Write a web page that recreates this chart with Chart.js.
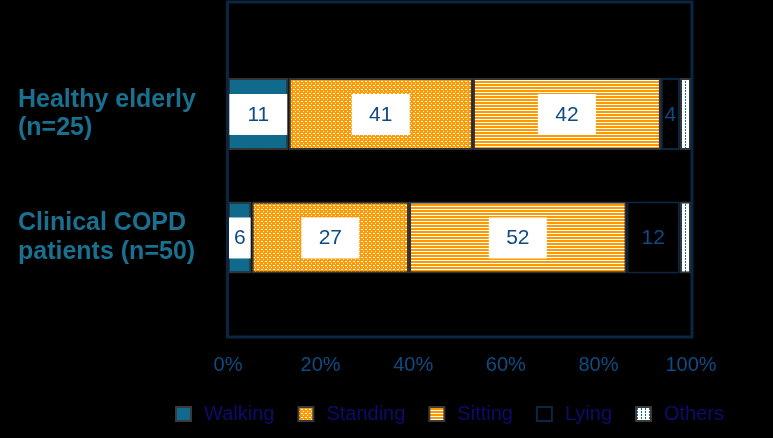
<!DOCTYPE html>
<html>
<head>
<meta charset="utf-8">
<script src="https://cdn.jsdelivr.net/npm/chart.js@4.4.1/dist/chart.umd.min.js"></script>
<style>
  html, body { margin: 0; padding: 0; background: #000; }
  #wrap { width: 773px; height: 438px; }
</style>
</head>
<body>
<div id="wrap"><canvas id="activityChart" width="773" height="438"></canvas></div>
<script>
// groups on the y axis (two lines each)
const groups = [["Healthy elderly", "(n=25)"], ["Clinical COPD", "patients (n=50)"]];
const activities = ["Walking", "Standing", "Sitting", "Lying", "Others"];

// share of the day per activity (%)
const walking  = [13.1, 5.1];
const standing = [39.8, 34.0];
const sitting  = [40.6, 47.0];
const lying    = [4.1, 11.5];
const others   = [2.4, 2.4];

// numbers printed on the bars
const walkingLabels  = ["11", "6"];
const standingLabels = ["41", "27"];
const sittingLabels  = ["42", "52"];
const lyingLabels    = ["4", "12"];

const FONT = "'Liberation Sans', Arial, sans-serif";
const TEAL = "#0f6a8b";
const ORANGE = "#ff9900";
const NAVY = "#0b2642";

// kleine tegel als vulpatroon
function makePattern(w, h, bg, fg, rects) {
  const c = document.createElement("canvas");
  c.width = w; c.height = h;
  const g = c.getContext("2d");
  g.fillStyle = bg;
  g.fillRect(0, 0, w, h);
  g.fillStyle = fg;
  rects.forEach(r => g.fillRect(r[0], r[1], r[2], r[3]));
  return g.createPattern(c, "repeat");
}

const standingFill = makePattern(4, 4, ORANGE, "#ffffff", [[1, 1, 2, 1], [3, 3, 1, 1]]);
const sittingFill = makePattern(1, 3, ORANGE, "#ffffff", [[0, 2, 1, 1]]);
const othersFill = makePattern(4, 3, "#ffffff", TEAL, [[1, 0, 1, 2]]);

function points(values) {
  return values.map((v, i) => ({ x: v, y: i }));
}

const datasets = [
  { label: "Walking", data: points(walking), backgroundColor: TEAL, borderColor: "#333333", numbers: walkingLabels, labelBox: true },
  { label: "Standing", data: points(standing), backgroundColor: standingFill, borderColor: "#333333", numbers: standingLabels, labelBox: true },
  { label: "Sitting", data: points(sitting), backgroundColor: sittingFill, borderColor: "#333333", numbers: sittingLabels, labelBox: true },
  { label: "Lying", data: points(lying), backgroundColor: "#000000", borderColor: NAVY, numbers: lyingLabels, labelBox: false },
  { label: "Others", data: points(others), backgroundColor: othersFill, borderColor: "#333333" }
].map(ds => Object.assign(ds, { borderWidth: 2, borderSkipped: false, barThickness: 72, inflateAmount: 0 }));

// getallen in witte vakjes
const boxLabels = {
  id: "boxLabels",
  afterDatasetsDraw(chart) {
    const ctx = chart.ctx;
    chart.data.datasets.forEach((ds, di) => {
      if (!ds.numbers) return;
      chart.getDatasetMeta(di).data.forEach((bar, i) => {
        const txt = ds.numbers[i];
        if (!txt) return;
        const p = bar.getProps(["x", "y", "base", "height"], true);
        const left = Math.min(p.x, p.base), right = Math.max(p.x, p.base);
        const top = p.y - p.height / 2;
        const cx = (left + right) / 2;
        ctx.save();
        if (ds.labelBox) {
          ctx.beginPath();
          ctx.rect(left + 1, top, right - left - 2, p.height);
          ctx.clip();
          ctx.fillStyle = "#ffffff";
          ctx.fillRect(cx - 29, p.y - 20, 58, 41);
        }
        ctx.fillStyle = "#0f4a85";
        ctx.font = "21px " + FONT;
        ctx.textAlign = "center";
        ctx.textBaseline = "middle";
        ctx.fillText(txt, cx, p.y + 1);
        ctx.restore();
      });
    });
  }
};

// kader om het plotgebied + legenda onderaan
const frameAndLegend = {
  id: "frameAndLegend",
  afterDraw(chart) {
    const ctx = chart.ctx;
    const a = chart.chartArea;
    ctx.save();
    ctx.strokeStyle = NAVY;
    ctx.lineWidth = 3;
    ctx.strokeRect(a.left - 0.5, a.top, a.right - a.left + 1.5, a.bottom - a.top);

    ctx.font = "20px " + FONT;
    ctx.textBaseline = "middle";
    let x = 176;
    const y = 414;
    chart.data.datasets.forEach(ds => {
      ctx.fillStyle = ds.backgroundColor;
      ctx.fillRect(x, y - 7, 15, 14);
      ctx.strokeStyle = ds.label === "Lying" ? NAVY : "#3a3a3a";
      ctx.lineWidth = 2;
      ctx.strokeRect(x, y - 7, 15, 14);
      ctx.fillStyle = "#0c0c6e";
      ctx.fillText(ds.label, x + 28, y);
      x += 28 + ctx.measureText(ds.label).width + 24;
    });
    ctx.restore();
  }
};

new Chart(document.getElementById("activityChart"), {
  type: "bar",
  data: { datasets: datasets },
  plugins: [boxLabels, frameAndLegend],
  options: {
    indexAxis: "y",
    responsive: false,
    animation: false,
    layout: { padding: { left: 18, right: 82, top: 2, bottom: 61 } },
    plugins: {
      legend: { display: false },
      tooltip: { enabled: false }
    },
    scales: {
      x: {
        type: "linear",
        stacked: true,
        min: 0,
        max: 100,
        grid: { display: false },
        border: { display: false },
        ticks: {
          stepSize: 20,
          padding: 8,
          color: "#0f4b82",
          font: { family: FONT, size: 20 },
          callback: v => v + "%"
        },
        afterFit: s => { s.height = 40; s.paddingLeft = 0; s.paddingRight = 0; }
      },
      y: {
        type: "linear",
        stacked: true,
        reverse: true,
        offset: false,
        min: -0.907,
        max: 1.806,
        grid: { display: false, offset: false },
        border: { display: false },
        afterBuildTicks: s => { s.ticks = groups.map((g, i) => ({ value: i })); },
        afterFit: s => { s.width = 210; s.paddingTop = 0; s.paddingBottom = 0; },
        ticks: {
          crossAlign: "far",
          color: "#19708f",
          font: { family: FONT, size: 25, weight: "bold", lineHeight: 1.15 },
          callback: v => groups[v]
        }
      }
    }
  }
});
</script>
</body>
</html>
